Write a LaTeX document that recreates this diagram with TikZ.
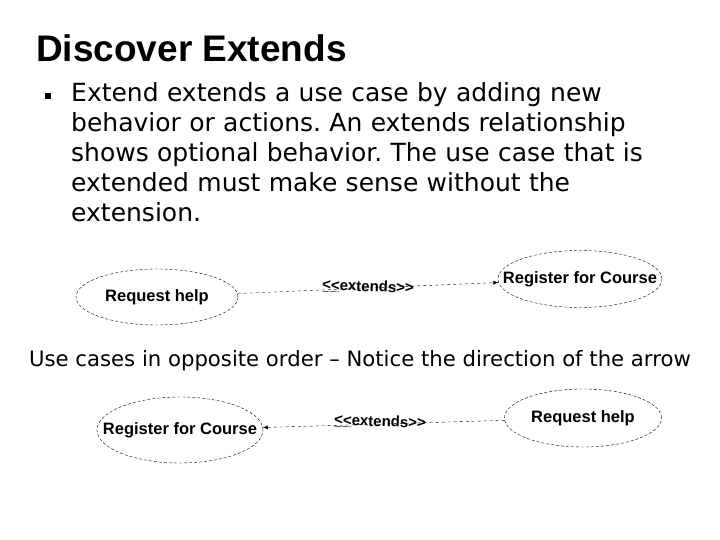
\documentclass[tikz,border=0pt]{standalone}
\usepackage{fontspec}
\setmainfont{DejaVu Sans}
\newfontfamily\arial{Liberation Sans}
\usetikzlibrary{shapes.geometric,arrows.meta}
\frenchspacing
\begin{document}
\begin{tikzpicture}[x=1pt,y=-1pt,
  uc/.style={ellipse,draw,densely dashed,thin,inner sep=0pt},
  uct/.style={inner sep=0pt,font=\arial\bfseries\fontsize{16.5}{18}\selectfont},
  rel/.style={draw,dashed,thin},
  lbl/.style={font=\arial\bfseries\fontsize{15}{17}\selectfont,inner sep=0pt},
  body/.style={font=\fontsize{25}{30}\selectfont,inner sep=0pt,anchor=north west,align=left}]
\useasboundingbox (0,0) rectangle (720,540);
\node[font=\arial\bfseries\fontsize{37}{40}\selectfont,anchor=west,inner sep=0pt] (title) at (36,48) {Discover Extends};
\node[fill=black,minimum size=6pt,inner sep=0pt] (bul) at (48,96) {};
\node[body,text width=660pt] (txt) at (71,82) {Extend extends a use case by adding new\\behavior or actions. An extends relationship\\shows optional behavior. The use case that is\\extended must make sense without the\\extension.};
\node[uc,minimum width=162pt,minimum height=56pt] (rh1) at (157,297) {};
\node[uct] (t1) at (rh1) {Request help};
\node[uc,minimum width=164pt,minimum height=57pt] (rc1) at (580,279) {};
\node[uct] (t2) at (rc1) {Register for Course};
\draw[rel,-{Latex[length=5pt,width=4pt]}] (rh1) -- (rc1);
\node[lbl,rotate=-2] (l1) at (368,287) {\underline{<<}extends>>};
\node[font=\fontsize{21.2}{26}\selectfont,inner sep=0pt] (mid) at (360,361) {Use cases in opposite order -- Notice the direction of the arrow};
\node[uc,minimum width=166pt,minimum height=66pt] (rc2) at (180,430) {};
\node[uct] (t3) at (rc2) {Register for Course};
\node[uc,minimum width=157pt,minimum height=58pt] (rh2) at (583,418) {};
\node[uct] (t4) at (rh2) {Request help};
\draw[rel,-{Latex[length=5pt,width=4pt]}] (rh2) -- (rc2);
\node[lbl,rotate=-2] (l2) at (380,422) {\underline{<<}extends>>};
\end{tikzpicture}
\end{document}
